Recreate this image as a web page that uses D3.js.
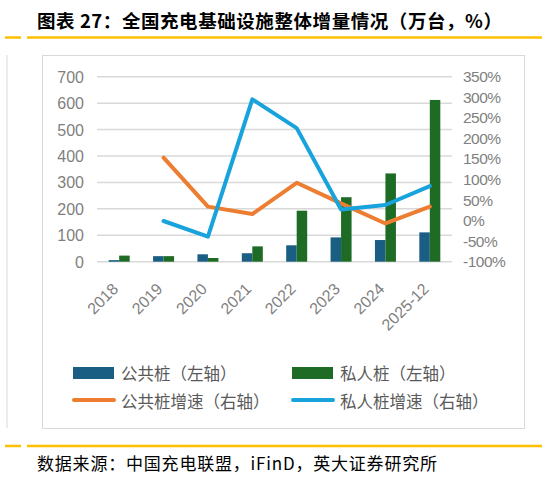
<!DOCTYPE html>
<html>
<head>
<meta charset="utf-8">
<script src="https://cdn.jsdelivr.net/npm/d3@7"></script>
<style>
  body { margin: 0; background: #fff; }
  svg text { font-family: "Noto Sans CJK SC", "Liberation Sans", sans-serif; }
</style>
</head>
<body>
<div id="chart"></div>
<script>
// data
const years = ['2018', '2019', '2020', '2021', '2022', '2023', '2024', '2025-12'];
const publicPiles = [6, 21, 28, 32, 62, 92, 82, 111];
const privatePiles = [23, 21, 14, 58, 193, 244, 334, 612];
const publicGrowth = [null, 153, 34, 16, 92, 42, -7, 34];
const privateGrowth = [null, -1, -39, 295, 225, 27, 38, 84];
const leftTicks = [0, 100, 200, 300, 400, 500, 600, 700];
const rightTicks = [-100, -50, 0, 50, 100, 150, 200, 250, 300, 350];

const W = 547, H = 485;
const plot = {left: 97, right: 452, top: 76.7, bottom: 261.7};

const svg = d3.select('#chart').append('svg')
    .attr('width', W)
    .attr('height', H);

// title and yellow rules
svg.append('text')
    .attr('x', 37).attr('y', 28)
    .attr('font-size', 18.5).attr('font-weight', 'bold')
    .attr('fill', '#000')
    .attr('textLength', 465).attr('lengthAdjust', 'spacing')
    .text('图表 27：全国充电基础设施整体增量情况（万台，%）');

function rule(y) {
    svg.append('line').attr('x1', 5).attr('x2', 21).attr('y1', y).attr('y2', y)
        .attr('stroke', '#FFC000').attr('stroke-width', 2.5);
    svg.append('line').attr('x1', 27).attr('x2', 542).attr('y1', y).attr('y2', y)
        .attr('stroke', '#FFC000').attr('stroke-width', 2.5);
}
rule(37.5);
rule(446);

// outer frame bits
svg.append('line').attr('x1', 7).attr('x2', 7).attr('y1', 55).attr('y2', 428)
    .attr('stroke', '#d9d9d9').attr('stroke-width', 1);
svg.append('rect').attr('x', 42.5).attr('y', 55.5).attr('width', 482).attr('height', 373)
    .attr('fill', 'none').attr('stroke', '#d9d9d9');

// scales
const x = d3.scaleBand().domain(years).range([plot.left, plot.right]);
const yL = d3.scaleLinear().domain([0, 700]).range([plot.bottom, plot.top]);
const yR = d3.scaleLinear().domain([-100, 350]).range([plot.bottom, plot.top]);

// grid
svg.append('g').selectAll('line').data(leftTicks).join('line')
    .attr('x1', plot.left).attr('x2', plot.right)
    .attr('y1', d => yL(d)).attr('y2', d => yL(d))
    .attr('stroke', '#d9d9d9').attr('stroke-width', 1.5);

// left axis labels
svg.append('g').selectAll('text').data(leftTicks).join('text')
    .attr('x', 84).attr('y', d => yL(d) + 6)
    .attr('text-anchor', 'end')
    .attr('font-size', 16).attr('fill', '#7f7f7f')
    .style('font-family', 'Liberation Sans, sans-serif')
    .text(d => d);

// right axis labels
svg.append('g').selectAll('text').data(rightTicks).join('text')
    .attr('x', 463).attr('y', d => yR(d) + 5.5)
    .attr('font-size', 15.5).attr('fill', '#7f7f7f')
    .attr('letter-spacing', -0.5)
    .style('font-family', 'Liberation Sans, sans-serif')
    .text(d => d + '%');

// bars
const bw = 10.5;
svg.append('g').selectAll('rect').data(years).join('rect')
    .attr('x', d => x(d) + x.bandwidth() / 2 - bw)
    .attr('y', (d, i) => yL(publicPiles[i]))
    .attr('width', bw)
    .attr('height', (d, i) => yL(0) - yL(publicPiles[i]))
    .attr('fill', '#1B5E84');
svg.append('g').selectAll('rect').data(years).join('rect')
    .attr('x', d => x(d) + x.bandwidth() / 2)
    .attr('y', (d, i) => yL(privatePiles[i]))
    .attr('width', bw)
    .attr('height', (d, i) => yL(0) - yL(privatePiles[i]))
    .attr('fill', '#1D6B24');

// lines
const line = d3.line()
    .defined(d => d.v != null)
    .x(d => x(d.year) + x.bandwidth() / 2)
    .y(d => yR(d.v));

svg.append('path')
    .datum(years.map((y, i) => ({year: y, v: publicGrowth[i]})))
    .attr('d', line)
    .attr('fill', 'none').attr('stroke', '#ED7D31').attr('stroke-width', 4)
    .attr('stroke-linejoin', 'round').attr('stroke-linecap', 'round');
svg.append('path')
    .datum(years.map((y, i) => ({year: y, v: privateGrowth[i]})))
    .attr('d', line)
    .attr('fill', 'none').attr('stroke', '#19A3DC').attr('stroke-width', 4)
    .attr('stroke-linejoin', 'round').attr('stroke-linecap', 'round');

// x labels
svg.append('g').selectAll('text').data(years).join('text')
    .attr('transform', d => 'translate(' + (x(d) + x.bandwidth() / 2) + ',' + 290 + ') rotate(-45)')
    .attr('text-anchor', 'end')
    .attr('font-size', 16).attr('fill', '#7f7f7f')
    .style('font-family', 'Liberation Sans, sans-serif')
    .text(d => d);

// legend
const legend = [
    {label: '公共桩（左轴）', color: '#1B5E84', type: 'bar', x: 73, y: 373},
    {label: '私人桩（左轴）', color: '#1D6B24', type: 'bar', x: 292, y: 373},
    {label: '公共桩增速（右轴）', color: '#ED7D31', type: 'line', x: 73, y: 400},
    {label: '私人桩增速（右轴）', color: '#19A3DC', type: 'line', x: 292, y: 400}
];
const lg = svg.append('g').selectAll('g').data(legend).join('g')
    .attr('transform', d => 'translate(' + d.x + ',' + d.y + ')');
lg.filter(d => d.type === 'bar').append('rect')
    .attr('x', 0).attr('y', -6).attr('width', 41).attr('height', 12)
    .attr('fill', d => d.color);
lg.filter(d => d.type === 'line').append('line')
    .attr('x1', 1).attr('x2', 41).attr('y1', 0).attr('y2', 0)
    .attr('stroke', d => d.color).attr('stroke-width', 4).attr('stroke-linecap', 'round');
lg.append('text')
    .attr('x', 48).attr('y', (d) => d.type === 'bar' ? 7 : 8)
    .attr('font-size', 16.5).attr('fill', '#595959')
    .text(d => d.label);

// source
svg.append('text')
    .attr('x', 37).attr('y', 470)
    .attr('font-size', 17).attr('fill', '#000')
    .attr('textLength', 400).attr('lengthAdjust', 'spacing')
    .text('数据来源：中国充电联盟，iFinD，英大证券研究所');
</script>
</body>
</html>
